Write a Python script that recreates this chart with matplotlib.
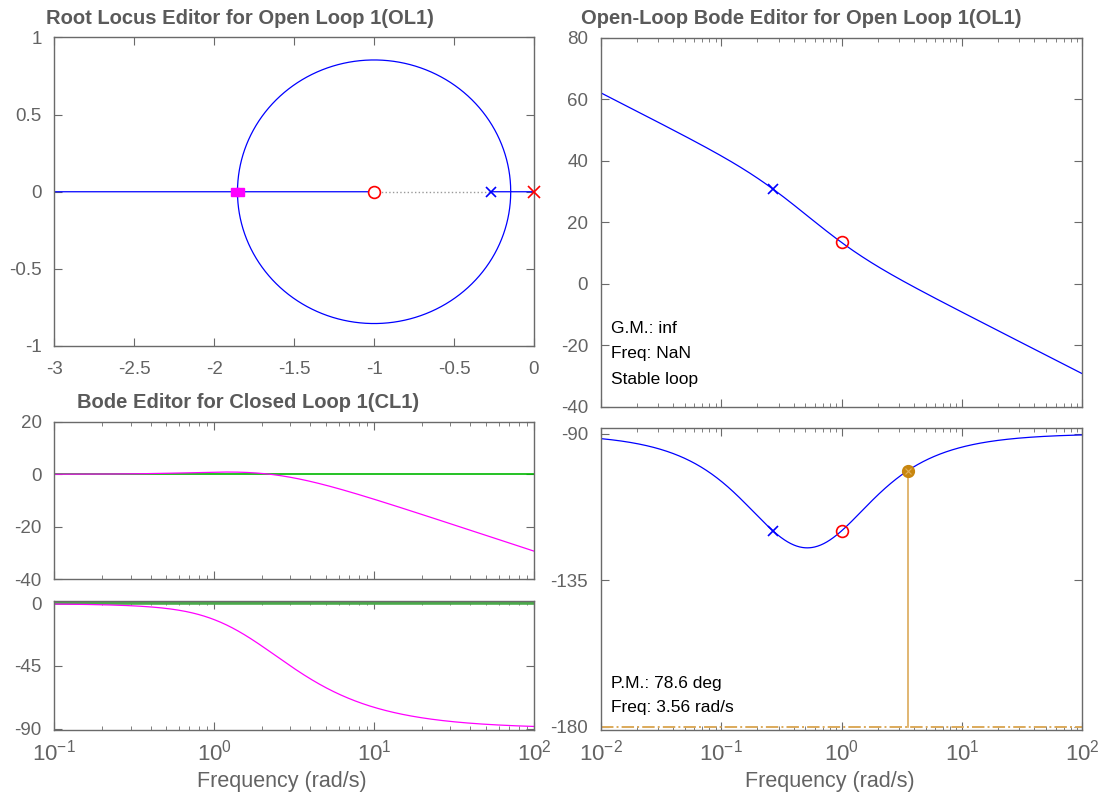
import numpy as np
import matplotlib
matplotlib.use('Agg')
import matplotlib.pyplot as plt
from matplotlib.ticker import FixedLocator, FuncFormatter, LogLocator, NullFormatter

plt.rcParams['font.family'] = ['Liberation Sans', 'DejaVu Sans']
plt.rcParams['axes.unicode_minus'] = False
plt.rcParams['mathtext.fontset'] = 'custom'
plt.rcParams['mathtext.rm'] = 'Liberation Sans'

# open loop: L(s) = K (s - z) / ((s - p_plant)(s - p_comp))
plant_pole = 0.0
comp_pole = -0.27
comp_zero = -1.0
gain = 3.439

# stability margins shown in the editor
gm_text = 'inf'
gm_freq_text = 'NaN'
pm_deg = 78.6
pm_freq = 3.56

gray = '#636363'
spine_gray = '#6a6a6a'
blue = '#0000ff'
red = '#ff0000'
magenta = '#ff00ff'
green = '#00b800'
pm_color = '#c8860f'
pm_line = '#dcaa5a'

W, H = 1105, 798
fig = plt.figure(figsize=(W / 100, H / 100), dpi=100)


def rect(x0, y0, x1, y1):
    return [x0 / W, 1 - y1 / H, (x1 - x0) / W, (y1 - y0) / H]


def pow_fmt(v, p):
    return r'$\mathdefault{10^{%d}}$' % round(np.log10(v))


def style(ax, log=False):
    for s in ax.spines.values():
        s.set_color(spine_gray)
        s.set_linewidth(1.0)
    ax.tick_params(which='both', direction='in', top=True, right=True,
                   colors=spine_gray, labelcolor=gray, labelsize=13.5)
    ax.tick_params(which='major', length=6)
    ax.tick_params(which='minor', length=3)
    ax.tick_params(axis='x', pad=9)
    ax.tick_params(axis='y', pad=9)
    if log:
        ax.set_xscale('log')
        ax.xaxis.set_major_locator(LogLocator(base=10))
        ax.xaxis.set_minor_locator(LogLocator(base=10, subs=np.arange(2, 10)))
        ax.xaxis.set_minor_formatter(NullFormatter())
        ax.xaxis.set_major_formatter(FuncFormatter(pow_fmt))
        ax.tick_params(axis='x', labelsize=16, pad=7)


num_ol = gain * np.poly([comp_zero])
den_ol = np.poly([plant_pole, comp_pole])
num_cl = num_ol
den_cl = np.polyadd(den_ol, num_ol)


def freqresp(num, den, w):
    h = np.polyval(num, 1j * w) / np.polyval(den, 1j * w)
    return 20 * np.log10(np.abs(h)), np.degrees(np.unwrap(np.angle(h)))


g_fmt = FuncFormatter(lambda v, p: '%g' % v)

# ---- root locus ----
ax_rl = fig.add_axes(rect(54.3, 37.5, 534, 346))
style(ax_rl)
# closed-loop roots of den + k*num over a dense gain sweep
k = np.concatenate([np.linspace(0, 5, 100001), np.logspace(np.log10(5), 6, 20000)])
zpoly = np.concatenate([[0.0], np.poly([comp_zero])])
b = den_ol[None, :] + k[:, None] * zpoly[None, :]
disc = np.sqrt(b[:, 1] ** 2 - 4 * b[:, 0] * b[:, 2] + 0j)
r1 = (-b[:, 1] + disc) / (2 * b[:, 0])
r2 = (-b[:, 1] - disc) / (2 * b[:, 0])
ax_rl.plot([comp_zero, comp_pole], [0, 0], ls=':', color='#999999', lw=1)
ax_rl.plot(r1.real, r1.imag, color=blue, lw=0.9)
ax_rl.plot(r2.real, r2.imag, color=blue, lw=0.9)
cl_poles = np.roots(den_cl)
ax_rl.plot(cl_poles.real, cl_poles.imag, 's', color=magenta, ms=6.3, zorder=4)
ax_rl.plot(comp_zero, 0, 'o', mfc='white', mec=red, ms=8.5, mew=1.2, zorder=4)
ax_rl.plot(comp_pole, 0, 'x', color=blue, ms=6.5, mew=1.2, zorder=4)
ax_rl.plot(plant_pole, 0, 'x', color=red, ms=9, mew=1.2, clip_on=False, zorder=5)
ax_rl.set_xlim(-3, 0)
ax_rl.set_ylim(-1, 1)
ax_rl.xaxis.set_major_locator(FixedLocator(np.arange(-3, 0.01, 0.5)))
ax_rl.yaxis.set_major_locator(FixedLocator(np.arange(-1, 1.01, 0.5)))
ax_rl.xaxis.set_major_formatter(g_fmt)
ax_rl.yaxis.set_major_formatter(g_fmt)
ax_rl.tick_params(axis='x', pad=11)

# ---- closed loop bode ----
w_cl = np.logspace(-1, 2, 600)
mag_cl, ph_cl = freqresp(num_cl, den_cl, w_cl)

ax_cm = fig.add_axes(rect(54.3, 421.7, 534, 579.3))
style(ax_cm, log=True)
ax_cm.axhline(0, color=green, lw=1.2)
ax_cm.plot(w_cl, mag_cl, color=magenta, lw=0.9)
ax_cm.set_xlim(0.1, 100)
ax_cm.set_ylim(-40, 20)
ax_cm.yaxis.set_major_locator(FixedLocator([-40, -20, 0, 20]))
ax_cm.yaxis.set_major_formatter(g_fmt)
ax_cm.tick_params(axis='x', labelbottom=False)

ax_cp = fig.add_axes(rect(54.3, 601.3, 534, 730))
style(ax_cp, log=True)
ax_cp.axhline(0, color='#4aaa4a', lw=2.6)
ax_cp.plot(w_cl, ph_cl, color=magenta, lw=0.9)
ax_cp.set_xlim(0.1, 100)
ax_cp.set_ylim(-91, 1.5)
ax_cp.yaxis.set_major_locator(FixedLocator([-90, -45, 0]))
ax_cp.yaxis.set_major_formatter(g_fmt)
ax_cp.set_xlabel('Frequency (rad/s)', fontsize=15.5, color=gray, labelpad=4)
ax_cp.xaxis.label.set_x(0.475)

# ---- open loop bode ----
w_ol = np.logspace(-2, 2, 800)
mag_ol, ph_ol = freqresp(num_ol, den_ol, w_ol)
marks = np.array([-comp_pole, -comp_zero])
mag_m, ph_m = freqresp(num_ol, den_ol, marks)

ax_om = fig.add_axes(rect(600.7, 37.7, 1082.3, 406.7))
style(ax_om, log=True)
ax_om.plot(w_ol, mag_ol, color=blue, lw=0.9)
ax_om.plot(marks[0], mag_m[0], 'x', color=blue, ms=6.5, mew=1.2)
ax_om.plot(marks[1], mag_m[1], 'o', mfc='none', mec=red, ms=8.5, mew=1.2)
ax_om.set_xlim(0.01, 100)
ax_om.set_ylim(-40, 80)
ax_om.yaxis.set_major_locator(FixedLocator(np.arange(-40, 81, 20)))
ax_om.yaxis.set_major_formatter(g_fmt)
ax_om.tick_params(axis='x', labelbottom=False)
for yy, txt in [(0.213, 'G.M.: ' + gm_text), (0.145, 'Freq: ' + gm_freq_text),
                (0.075, 'Stable loop')]:
    ax_om.text(0.021, yy, txt, transform=ax_om.transAxes, fontsize=12.5,
               va='center', ha='left', color='black')

ax_op = fig.add_axes(rect(600.7, 427.7, 1082.3, 730))
style(ax_op, log=True)
ax_op.axhline(-180, color=pm_line, lw=1.4, ls='-.')
ax_op.plot(w_ol, ph_ol, color=blue, lw=0.9)
ax_op.plot(marks[0], ph_m[0], 'x', color=blue, ms=6.5, mew=1.2)
ax_op.plot(marks[1], ph_m[1], 'o', mfc='none', mec=red, ms=8.5, mew=1.2)
ax_op.plot([pm_freq, pm_freq], [-180, -180 + pm_deg], color=pm_line, lw=1.2)
ax_op.plot(pm_freq, -180 + pm_deg, 'o', color=pm_color, ms=8.5, zorder=5)
ax_op.plot(pm_freq, -180 + pm_deg, 'x', color='#e0b060', ms=5, mew=0.8, zorder=6)
ax_op.set_xlim(0.01, 100)
ax_op.set_ylim(-181, -88.2)
ax_op.yaxis.set_major_locator(FixedLocator([-180, -135, -90]))
ax_op.yaxis.set_major_formatter(g_fmt)
ax_op.set_xlabel('Frequency (rad/s)', fontsize=15.5, color=gray, labelpad=4)
ax_op.xaxis.label.set_x(0.476)
for yy, txt in [(0.155, 'P.M.: %.1f deg' % pm_deg), (0.076, 'Freq: %.2f rad/s' % pm_freq)]:
    ax_op.text(0.021, yy, txt, transform=ax_op.transAxes, fontsize=12.5,
               va='center', ha='left', color='black')

# titles
title_kw = dict(fontsize=14.5, fontweight='bold', color='#5a5a5a', ha='center', va='center')
fig.text(240 / W, 1 - 18 / H, 'Root Locus Editor for Open Loop 1(OL1)', **title_kw)
fig.text(801 / W, 1 - 18 / H, 'Open-Loop Bode Editor for Open Loop 1(OL1)', **title_kw)
fig.text(248 / W, 1 - 402 / H, 'Bode Editor for Closed Loop 1(CL1)', **title_kw)

fig.savefig('out.png', dpi=100)
